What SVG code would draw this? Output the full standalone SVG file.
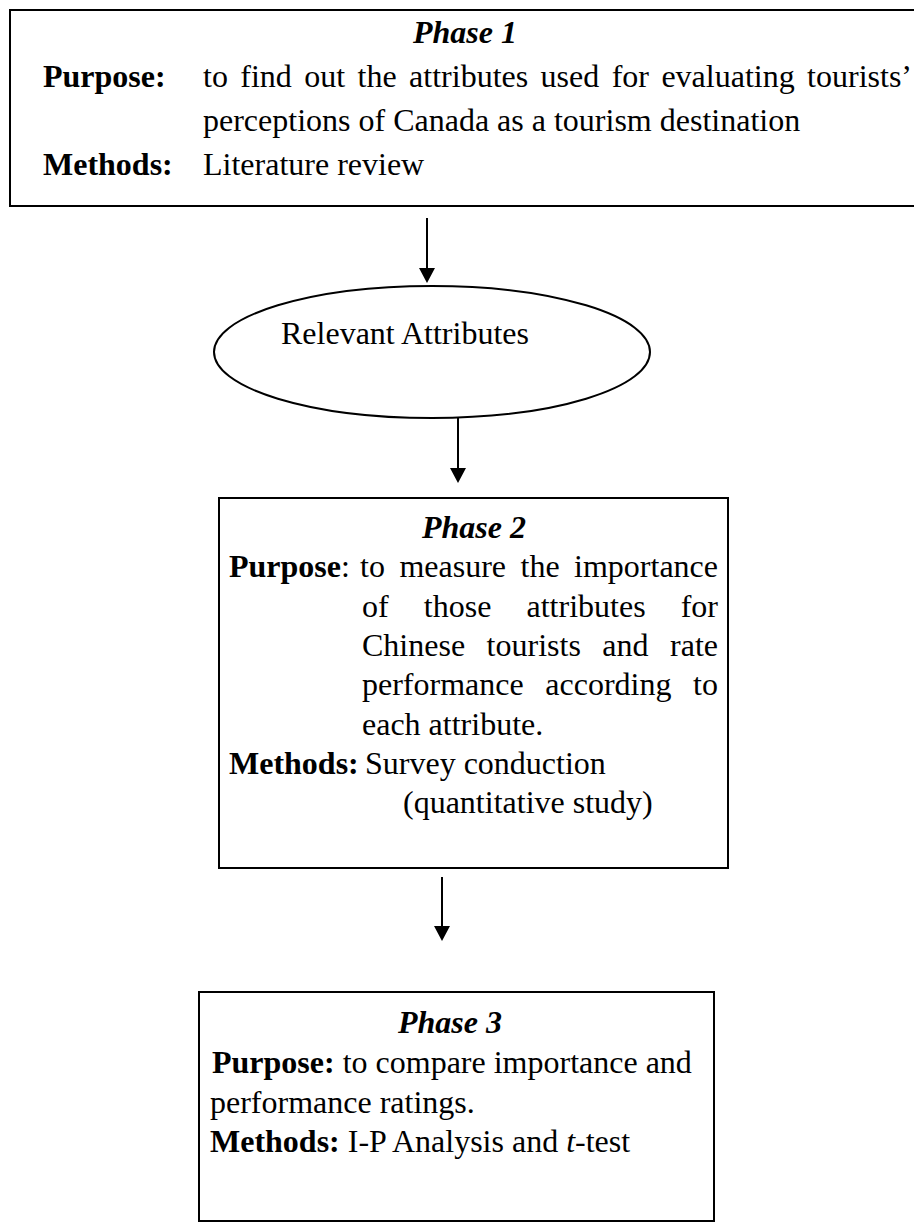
<svg xmlns="http://www.w3.org/2000/svg" width="914" height="1224" viewBox="0 0 914 1224">
  <style>
    text { font-family: "Liberation Serif", "Times New Roman", serif; font-size: 32px; fill: #000; }
    .b { font-weight: bold; }
    .bi { font-weight: bold; font-style: italic; }
    .i { font-style: italic; }
    .box { fill: #fff; stroke: #000; stroke-width: 2; }
    .conn { stroke: #000; stroke-width: 2; fill: none; }
  </style>
  <defs>
    <marker id="ah" markerUnits="userSpaceOnUse" markerWidth="16" markerHeight="16" viewBox="0 0 15 16" refX="3" refY="8" orient="auto">
      <path d="M0,0 L15,8 L0,16 Z" fill="#000"/>
    </marker>
  </defs>
  <rect width="914" height="1224" fill="#fff"/>

  <g id="phase1">
    <rect class="box" x="10" y="10" width="930" height="196"/>
    <text class="bi" x="465" y="43" text-anchor="middle">Phase 1</text>
    <text class="b" x="43" y="87">Purpose:</text>
    <text y="87"><tspan x="203">to</tspan><tspan x="240.3">find</tspan><tspan x="304.3">out</tspan><tspan x="357.6">the</tspan><tspan x="409.1">attributes</tspan><tspan x="540.6">used</tspan><tspan x="611.7">for</tspan><tspan x="661.4">evaluating</tspan><tspan x="912" text-anchor="end">tourists’</tspan></text>
    <text x="203" y="131">perceptions of Canada as a tourism destination</text>
    <text class="b" x="43" y="175">Methods:</text>
    <text x="203" y="175">Literature review</text>
  </g>

  <g id="relevant-attributes">
    <ellipse class="box" cx="432" cy="352" rx="218" ry="66"/>
    <text x="281" y="344">Relevant Attributes</text>
  </g>

  <g id="phase2">
    <rect class="box" x="219" y="498" width="509" height="370"/>
    <text class="bi" x="474" y="538" text-anchor="middle">Phase 2</text>
    <text x="229" y="577"><tspan class="b">Purpose</tspan>:</text>
    <text y="577"><tspan x="360">to</tspan><tspan x="399.4">measure</tspan><tspan x="520.5">the</tspan><tspan x="718" text-anchor="end">importance</tspan></text>
    <text y="617"><tspan x="362">of</tspan><tspan x="423.8">those</tspan><tspan x="526.5">attributes</tspan><tspan x="718" text-anchor="end">for</tspan></text>
    <text y="656"><tspan x="362">Chinese</tspan><tspan x="486.6">tourists</tspan><tspan x="602.3">and</tspan><tspan x="718" text-anchor="end">rate</tspan></text>
    <text y="695"><tspan x="362">performance</tspan><tspan x="545.3">according</tspan><tspan x="718" text-anchor="end">to</tspan></text>
    <text x="362" y="735">each attribute.</text>
    <text class="b" x="229" y="774">Methods:</text>
    <text x="365" y="774">Survey conduction</text>
    <text x="403" y="813">(quantitative study)</text>
  </g>

  <g id="phase3">
    <rect class="box" x="199" y="992" width="515" height="229"/>
    <text class="bi" x="450" y="1033" text-anchor="middle">Phase 3</text>
    <text x="212" y="1073"><tspan class="b">Purpose:</tspan> to compare importance and</text>
    <text x="210" y="1113">performance ratings.</text>
    <text x="210" y="1152"><tspan class="b">Methods:</tspan> I-P Analysis and <tspan class="i">t</tspan>-test</text>
  </g>

  <g id="connectors">
    <line class="conn" x1="427" y1="218" x2="427" y2="271" marker-end="url(#ah)"/>
    <line class="conn" x1="458" y1="418" x2="458" y2="471" marker-end="url(#ah)"/>
    <line class="conn" x1="442" y1="877" x2="442" y2="929" marker-end="url(#ah)"/>
  </g>
</svg>
